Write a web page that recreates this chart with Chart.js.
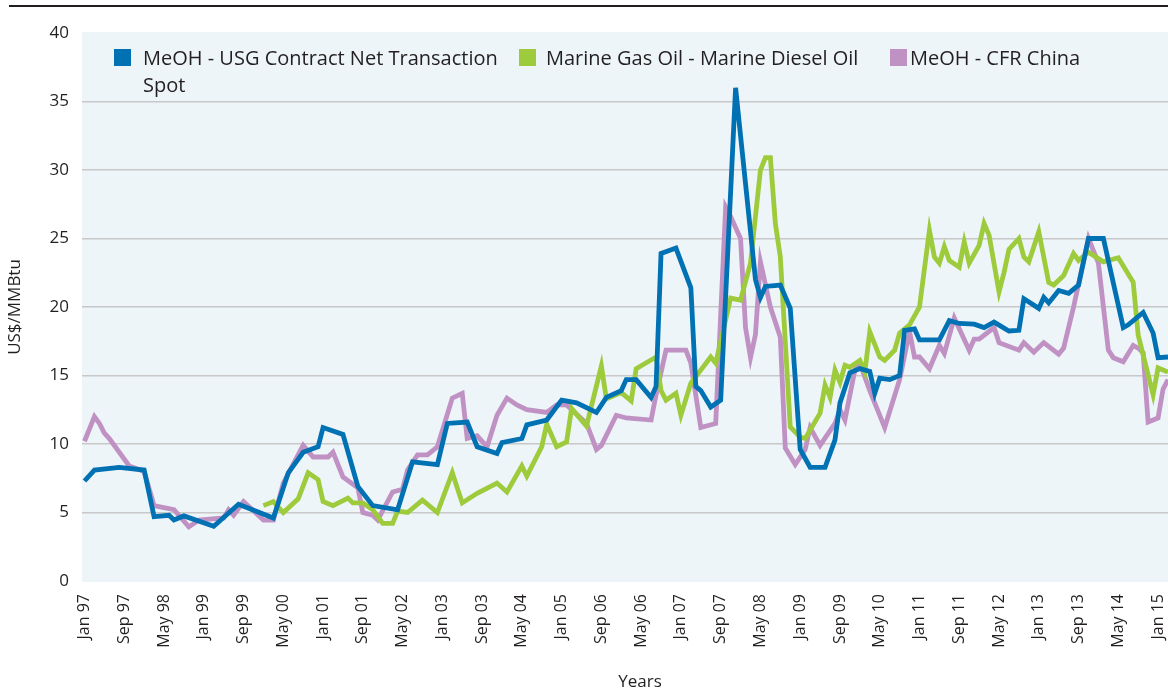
<!DOCTYPE html>
<html>
<head>
<meta charset="utf-8">
<script src="https://cdn.jsdelivr.net/npm/chart.js@4.4.1/dist/chart.umd.min.js"></script>
<style>
html,body{margin:0;padding:0;background:#fff;overflow:hidden;}
#wrap{position:relative;width:1168px;height:691px;}
#chart{display:block;}
#rule{position:absolute;left:9px;right:0;top:5px;height:2px;background:#231f20;}
.item{position:absolute;top:44px;font-family:"Open Sans",sans-serif;font-size:20px;line-height:27px;color:#231f20;white-space:nowrap;}
.item .box{position:absolute;top:5px;width:17px;height:17px;}
#xtitle{position:absolute;left:600px;width:80px;top:669px;text-align:center;font-family:"Open Sans",sans-serif;font-size:17px;color:#231f20;}
</style>
</head>
<body>
<div id="wrap">
  <canvas id="chart" width="1168" height="691"></canvas>
  <div id="rule"></div>
  <div id="legend"></div>
  <div id="xtitle">Years</div>
</div>
<script>
// x axis: months since Jan 97, a label every 8 months
const tickLabels = ["Jan 97","Sep 97","May 98","Jan 99","Sep 99","May 00","Jan 01","Sep 01","May 02","Jan 03","Sep 03","May 04","Jan 05","Sep 06","May 06","Jan 07","Sep 07","May 08","Jan 09","Sep 09","May 10","Jan 11","Sep 11","May 12","Jan 13","Sep 13","May 14","Jan 15"];

// MeOH - USG Contract Net Transaction Spot
const usgMonths = [0,2,7,12,14,17,18,20,26,31,38,41,44,47,48,52,55,58,63,66,71,73,77,79,83,84,88,89,93,96,99,103,105,108,109,111,114,115,116,119,122,123,124,126,128,131,135,136,137,140,142,144,146,149,151,152,154,156,158,159,160,162,164,165,167,168,172,174,176,179,181,183,186,188,189,192,193,194,196,198,200,202,205,209,210,213,215,216,218];
const usgValues = [7.3,8.1,8.3,8.1,4.7,4.8,4.45,4.75,4.0,5.6,4.6,7.9,9.4,9.8,11.2,10.7,6.9,5.5,5.2,8.7,8.5,11.5,11.6,9.8,9.3,10.1,10.4,11.4,11.75,13.2,13.0,12.3,13.4,13.9,14.7,14.7,13.4,14.2,23.9,24.3,21.4,14.2,13.9,12.7,13.2,36.0,22.0,20.7,21.5,21.6,19.9,9.6,8.3,8.3,10.3,13.0,15.2,15.5,15.3,13.7,14.8,14.7,15.0,18.3,18.4,17.6,17.6,19.0,18.8,18.75,18.5,18.9,18.25,18.3,20.6,19.9,20.7,20.3,21.2,21.0,21.6,25.0,25.0,18.5,18.7,19.6,18.1,16.3,16.35];

// Marine Gas Oil - Marine Diesel Oil
const mgoMonths = [36,38,40,43,45,47,48,50,53,54,56,58,60,62,63,65,68,71,74,76,79,83,85,88,89,92,93,95,97,98,101,104,105,108,110,111,115,116,117,119,120,122,126,127,130,132,134,136,137,138,139,140,142,144,145,148,149,150,151,152,153,154,156,157,158,160,161,163,164,166,168,170,171,172,173,174,176,177,178,180,181,182,184,185,186,188,189,190,192,194,195,197,199,200,202,205,208,211,212,215,216,218];
const mgoValues = [5.5,5.8,5.0,6.0,7.9,7.4,5.8,5.5,6.05,5.7,5.7,5.2,4.2,4.2,5.1,5.0,5.9,5.0,7.9,5.7,6.4,7.15,6.5,8.4,7.65,9.8,11.45,9.8,10.15,12.6,11.3,15.7,13.3,13.75,13.15,15.5,16.35,13.9,13.2,13.7,12.1,14.45,16.35,15.9,20.65,20.5,23.2,30.0,30.9,30.9,26.1,23.65,11.25,10.5,10.4,12.25,14.3,13.4,15.4,14.5,15.75,15.6,16.1,15.25,18.2,16.35,16.1,16.85,18.1,18.7,20.0,25.6,23.65,23.2,24.4,23.4,22.9,24.75,23.2,24.5,26.1,25.25,21.1,22.5,24.2,25.0,23.65,23.3,25.5,21.8,21.6,22.3,23.9,23.4,24.0,23.3,23.6,21.8,17.95,13.6,15.55,15.25];

// MeOH - CFR China
const cfrMonths = [0,2,3,4,5,9,12,14,18,21,23,28,29,30,32,36,38,40,44,46,49,50,52,55,56,58,59,62,64,65,67,69,71,74,76,77,79,81,83,85,87,89,93,95,97,101,103,104,107,109,114,115,117,121,122,124,127,129,130,132,133,134,135,136,138,140,141,143,145,146,148,151,152,153,155,156,158,161,164,166,167,168,170,172,173,175,178,179,180,183,184,188,189,191,193,196,197,199,202,204,206,207,209,211,212,213,214,216,217,218];
const cfrValues = [10.2,12.0,11.5,10.8,10.4,8.4,8.0,5.5,5.2,3.95,4.45,4.6,5.2,4.8,5.8,4.45,4.45,7.15,9.9,9.05,9.05,9.4,7.6,6.8,5.0,4.8,4.45,6.5,6.7,8.1,9.2,9.2,9.8,13.35,13.7,10.4,10.6,9.8,12.1,13.35,12.85,12.5,12.3,12.85,12.85,11.5,9.6,9.9,12.1,11.9,11.75,13.6,16.85,16.85,15.9,11.2,11.5,27.3,26.6,25.0,18.5,16.3,18.0,23.3,20.0,17.8,9.7,8.5,9.6,11.2,9.9,11.5,12.5,11.75,15.4,15.9,13.9,11.2,14.7,18.2,16.35,16.35,15.5,17.2,16.6,19.2,16.85,17.65,17.65,18.5,17.4,16.85,17.4,16.7,17.4,16.55,17.0,20.0,25.0,23.2,16.85,16.3,16.0,17.2,17.0,16.65,11.6,11.9,14.0,14.7];

const seriesNames = [["MeOH - USG Contract Net Transaction", "Spot"], ["Marine Gas Oil - Marine Diesel Oil"], ["MeOH - CFR China"]];
const seriesColors = ["#0071b3", "#9dcb3c", "#c091c3"];

const toPoints = (ms, vs) => ms.map((m, i) => ({x: m, y: vs[i]}));

// Legend (HTML, sits inside the plot area)
const legendPos = [[114, 143], [519, 546], [890, 910]];
const legend = document.getElementById("legend");
seriesNames.forEach((lines, i) => {
  const d = document.createElement("div");
  d.className = "item";
  d.style.left = legendPos[i][0] + "px";
  d.innerHTML = '<span class="box" style="left:0;background:' + seriesColors[i] + '"></span>' +
    '<div style="margin-left:' + (legendPos[i][1] - legendPos[i][0]) + 'px">' + lines.join("<br>") + '</div>';
  legend.appendChild(d);
});

const plotBg = {
  id: "plotBg",
  beforeDraw(chart){
    const {ctx, chartArea: a} = chart;
    ctx.save();
    ctx.fillStyle = "#edf5f9";
    ctx.fillRect(a.left, a.top - 1, a.right - a.left, a.bottom - a.top + 2);
    ctx.restore();
  }
};

const font = "'Open Sans', sans-serif";
const line = (i, ms, vs, order) => ({
  label: seriesNames[i].join(" "),
  data: toPoints(ms, vs),
  borderColor: seriesColors[i],
  backgroundColor: seriesColors[i],
  borderWidth: 4.8,
  pointRadius: 0,
  tension: 0,
  order: order
});

new Chart(document.getElementById("chart"), {
  type: "line",
  data: {
    datasets: [
      line(0, usgMonths, usgValues, 1),
      line(1, mgoMonths, mgoValues, 2),
      line(2, cfrMonths, cfrValues, 3)
    ]
  },
  options: {
    responsive: false,
    animation: false,
    devicePixelRatio: 1,
    layout: {padding: {top: 33, right: 0, bottom: 0, left: 0}},
    plugins: {legend: {display: false}, tooltip: {enabled: false}},
    scales: {
      x: {
        type: "linear",
        min: -0.5,
        max: 218,
        afterBuildTicks: s => { s.ticks = tickLabels.map((t, i) => ({value: i * 8})); },
        afterFit: s => { s.height = 110; s.paddingLeft = 0; s.paddingRight = 0; },
        ticks: {
          autoSkip: false, maxRotation: 90, minRotation: 90, padding: 5,
          color: "#231f20", font: {family: font, size: 16},
          callback: v => tickLabels[Math.round(v / 8)]
        },
        grid: {display: false},
        border: {display: false}
      },
      y: {
        min: 0,
        max: 40,
        afterFit: s => { s.width = 82; },
        ticks: {stepSize: 5, padding: 13, color: "#231f20", font: {family: font, size: 17}},
        grid: {
          drawTicks: false, lineWidth: 1.5,
          color: c => (c.tick && c.tick.value > 0 && c.tick.value < 40) ? "#c8c8c8" : "rgba(0,0,0,0)"
        },
        border: {display: false},
        title: {display: true, text: "US$/MMBtu", color: "#231f20", font: {family: font, size: 17}, padding: {top: 5, bottom: 0}}
      }
    }
  },
  plugins: [plotBg]
});
</script>
</body>
</html>
